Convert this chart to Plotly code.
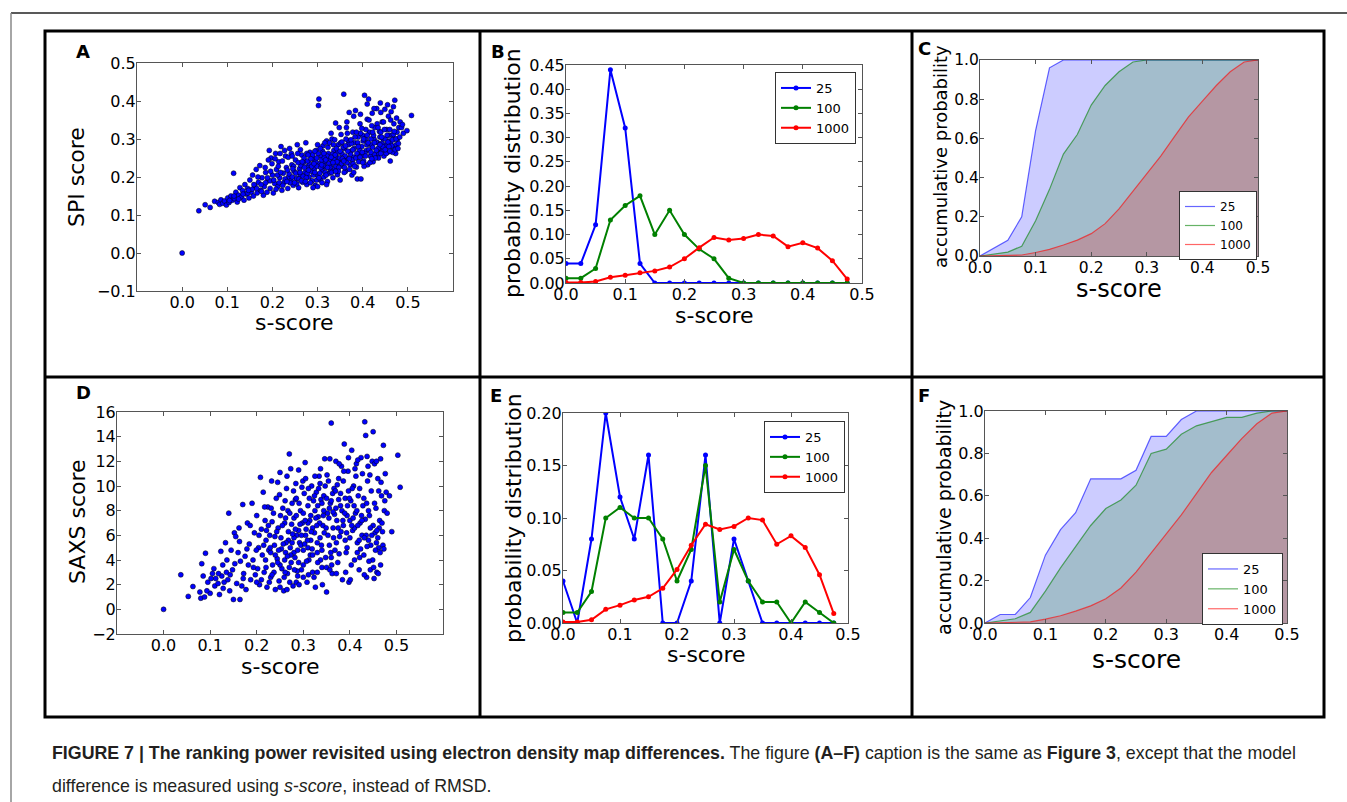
import plotly.graph_objects as go

W, H = 1347, 802

# ---------------- data ----------------
bins = [0.0, 0.025, 0.05, 0.075, 0.1, 0.125, 0.15, 0.175, 0.2, 0.225,
        0.25, 0.275, 0.3, 0.325, 0.35, 0.375, 0.4, 0.425, 0.45, 0.475]
edges = [0.0, 0.025, 0.05, 0.075, 0.1, 0.125, 0.15, 0.175, 0.2, 0.225,
         0.25, 0.275, 0.3, 0.325, 0.35, 0.375, 0.4, 0.425, 0.45, 0.475, 0.5]
labels = ["25", "100", "1000"]

# panel B: probability distribution (SPI)
b_25 = [0.04, 0.04, 0.12, 0.44, 0.32, 0.04, 0.0, 0.0, 0.0, 0.0,
        0.0, 0.0, 0.0, 0.0, 0.0, 0.0, 0.0, 0.0, 0.0, 0.0]
b_100 = [0.01, 0.01, 0.03, 0.13, 0.16, 0.18, 0.10, 0.15, 0.10, 0.07,
         0.05, 0.01, 0.0, 0.0, 0.0, 0.0, 0.0, 0.0, 0.0, 0.0]
b_1000 = [0.001, 0.001, 0.003, 0.012, 0.016, 0.021, 0.025, 0.033, 0.050, 0.073,
          0.094, 0.089, 0.092, 0.100, 0.097, 0.075, 0.083, 0.072, 0.046, 0.008]

# panel E: probability distribution (SAXS)
e_25 = [0.04, 0.0, 0.08, 0.20, 0.12, 0.08, 0.16, 0.0, 0.0, 0.04,
        0.16, 0.0, 0.08, 0.04, 0.0, 0.0, 0.0, 0.0, 0.0, 0.0]
e_100 = [0.01, 0.01, 0.03, 0.10, 0.11, 0.10, 0.10, 0.08, 0.04, 0.07,
         0.15, 0.02, 0.07, 0.04, 0.02, 0.02, 0.0, 0.02, 0.01, 0.0]
e_1000 = [0.001, 0.001, 0.003, 0.013, 0.017, 0.022, 0.025, 0.033, 0.051, 0.074,
          0.094, 0.089, 0.092, 0.100, 0.098, 0.075, 0.083, 0.072, 0.046, 0.009]

# panel C: accumulative probability (SPI)
c_25 = [0.0, 0.04, 0.08, 0.20, 0.64, 0.96, 1.0, 1.0, 1.0, 1.0, 1.0,
        1.0, 1.0, 1.0, 1.0, 1.0, 1.0, 1.0, 1.0, 1.0, 1.0]
c_100 = [0.0, 0.01, 0.02, 0.05, 0.18, 0.34, 0.52, 0.62, 0.77, 0.87, 0.94,
         0.99, 1.0, 1.0, 1.0, 1.0, 1.0, 1.0, 1.0, 1.0, 1.0]
c_1000 = [0.0, 0.001, 0.002, 0.005, 0.018, 0.034, 0.056, 0.081, 0.114, 0.165, 0.24,
          0.33, 0.42, 0.51, 0.61, 0.71, 0.79, 0.87, 0.94, 0.99, 1.0]

# panel F: accumulative probability (SAXS)
f_25 = [0.0, 0.04, 0.04, 0.12, 0.32, 0.44, 0.52, 0.68, 0.68, 0.68, 0.72,
        0.88, 0.88, 0.96, 1.0, 1.0, 1.0, 1.0, 1.0, 1.0, 1.0]
f_100 = [0.0, 0.01, 0.02, 0.05, 0.15, 0.26, 0.36, 0.46, 0.54, 0.58, 0.65,
         0.80, 0.82, 0.89, 0.93, 0.95, 0.97, 0.97, 0.99, 1.0, 1.0]
f_1000 = [0.0, 0.001, 0.002, 0.005, 0.018, 0.034, 0.056, 0.081, 0.114, 0.165, 0.24,
          0.33, 0.42, 0.51, 0.61, 0.71, 0.79, 0.87, 0.94, 0.99, 1.0]

# panel A: s-score vs SPI score
a_pts = [
    (0.000, 0.000), (0.037, 0.111), (0.051, 0.127), (0.062, 0.120), (0.072, 0.136),
    (0.080, 0.133), (0.083, 0.128), (0.086, 0.140), (0.090, 0.131), (0.094, 0.137),
    (0.098, 0.126), (0.101, 0.145), (0.104, 0.133), (0.108, 0.150), (0.111, 0.139),
    (0.114, 0.210), (0.116, 0.143), (0.119, 0.160), (0.122, 0.134), (0.125, 0.152),
    (0.128, 0.172), (0.131, 0.147), (0.134, 0.164), (0.137, 0.139), (0.139, 0.180),
    (0.142, 0.155), (0.145, 0.170), (0.148, 0.145), (0.150, 0.192), (0.153, 0.160),
    (0.156, 0.205), (0.158, 0.150), (0.161, 0.177), (0.164, 0.220), (0.166, 0.158),
    (0.169, 0.186), (0.172, 0.230), (0.174, 0.165), (0.177, 0.198), (0.180, 0.152),
    (0.182, 0.175), (0.185, 0.212), (0.188, 0.160), (0.190, 0.190), (0.193, 0.270),
    (0.195, 0.170), (0.197, 0.250), (0.200, 0.205), (0.202, 0.158), (0.205, 0.183),
    (0.207, 0.262), (0.209, 0.220), (0.212, 0.175), (0.214, 0.240), (0.216, 0.198),
    (0.219, 0.280), (0.221, 0.165), (0.224, 0.210), (0.226, 0.186), (0.229, 0.255),
    (0.231, 0.225), (0.234, 0.170), (0.236, 0.200), (0.238, 0.275), (0.241, 0.190),
    (0.243, 0.232), (0.246, 0.178), (0.248, 0.215), (0.251, 0.245), (0.253, 0.196),
    (0.255, 0.285), (0.258, 0.172), (0.260, 0.222), (0.262, 0.205), (0.265, 0.258),
    (0.267, 0.186), (0.269, 0.238), (0.272, 0.212), (0.274, 0.290), (0.276, 0.180),
    (0.279, 0.228), (0.281, 0.200), (0.283, 0.265), (0.286, 0.215), (0.288, 0.190),
    (0.290, 0.247), (0.293, 0.222), (0.295, 0.178), (0.297, 0.270), (0.300, 0.205),
    (0.302, 0.388), (0.303, 0.405), (0.304, 0.235), (0.306, 0.192), (0.308, 0.255),
    (0.310, 0.218), (0.312, 0.282), (0.314, 0.200), (0.316, 0.240), (0.318, 0.226),
    (0.320, 0.295), (0.322, 0.188), (0.324, 0.262), (0.326, 0.210), (0.328, 0.247),
    (0.330, 0.232), (0.332, 0.300), (0.334, 0.198), (0.336, 0.270), (0.338, 0.222),
    (0.340, 0.342), (0.342, 0.252), (0.344, 0.206), (0.346, 0.285), (0.348, 0.238),
    (0.350, 0.192), (0.352, 0.312), (0.354, 0.262), (0.356, 0.228), (0.358, 0.418),
    (0.360, 0.275), (0.362, 0.215), (0.364, 0.330), (0.366, 0.248), (0.368, 0.295),
    (0.370, 0.370), (0.372, 0.232), (0.374, 0.268), (0.376, 0.205), (0.378, 0.318),
    (0.380, 0.252), (0.382, 0.290), (0.384, 0.375), (0.386, 0.226), (0.388, 0.195),
    (0.390, 0.305), (0.392, 0.262), (0.394, 0.340), (0.396, 0.195), (0.398, 0.280),
    (0.400, 0.310), (0.402, 0.242), (0.404, 0.415), (0.406, 0.300), (0.408, 0.270),
    (0.410, 0.352), (0.411, 0.232), (0.413, 0.405), (0.415, 0.318), (0.417, 0.255),
    (0.419, 0.285), (0.421, 0.368), (0.423, 0.240), (0.425, 0.300), (0.427, 0.330),
    (0.429, 0.262), (0.431, 0.380), (0.433, 0.290), (0.435, 0.250), (0.437, 0.320),
    (0.439, 0.395), (0.441, 0.270), (0.443, 0.345), (0.445, 0.300), (0.447, 0.255),
    (0.449, 0.378), (0.451, 0.285), (0.453, 0.325), (0.455, 0.265), (0.457, 0.360),
    (0.459, 0.295), (0.461, 0.242), (0.463, 0.372), (0.465, 0.310), (0.467, 0.278),
    (0.469, 0.340), (0.471, 0.402), (0.473, 0.262), (0.475, 0.355), (0.477, 0.300),
    (0.480, 0.330), (0.483, 0.345), (0.490, 0.315), (0.498, 0.322), (0.508, 0.362),
    (0.215, 0.185), (0.228, 0.195), (0.237, 0.208), (0.244, 0.200), (0.252, 0.210),
    (0.259, 0.195), (0.263, 0.230), (0.268, 0.202), (0.271, 0.225), (0.277, 0.210),
    (0.282, 0.235), (0.287, 0.228), (0.291, 0.205), (0.296, 0.240), (0.299, 0.228),
    (0.305, 0.210), (0.309, 0.245), (0.313, 0.230), (0.317, 0.212), (0.321, 0.255),
    (0.325, 0.235), (0.329, 0.218), (0.333, 0.260), (0.337, 0.245), (0.341, 0.228),
    (0.345, 0.265), (0.349, 0.250), (0.353, 0.235), (0.357, 0.278), (0.361, 0.255),
    (0.365, 0.238), (0.369, 0.285), (0.373, 0.260), (0.377, 0.245), (0.381, 0.275),
    (0.385, 0.250), (0.389, 0.290), (0.393, 0.270), (0.397, 0.255), (0.401, 0.295),
    (0.405, 0.262), (0.409, 0.285), (0.414, 0.272), (0.418, 0.300), (0.422, 0.278),
    (0.426, 0.260), (0.430, 0.292), (0.434, 0.275), (0.438, 0.305), (0.442, 0.288),
    (0.446, 0.270), (0.450, 0.300), (0.454, 0.282), (0.458, 0.310), (0.462, 0.290),
    (0.466, 0.265), (0.470, 0.300), (0.474, 0.285), (0.165, 0.170), (0.175, 0.180),
    (0.185, 0.185), (0.195, 0.190), (0.135, 0.155), (0.145, 0.158), (0.155, 0.168),
    (0.125, 0.142), (0.115, 0.150), (0.105, 0.138),
    (0.203, 0.192), (0.211, 0.205), (0.218, 0.212), (0.223, 0.178), (0.233, 0.218),
    (0.239, 0.185), (0.247, 0.228), (0.254, 0.182), (0.257, 0.238), (0.264, 0.190),
    (0.270, 0.250), (0.275, 0.198), (0.278, 0.242), (0.284, 0.185), (0.289, 0.258),
    (0.294, 0.212), (0.298, 0.192), (0.301, 0.262), (0.307, 0.225), (0.311, 0.268),
    (0.315, 0.250), (0.319, 0.205), (0.323, 0.278), (0.327, 0.225), (0.331, 0.212),
    (0.335, 0.285), (0.339, 0.258), (0.343, 0.240), (0.347, 0.225), (0.351, 0.290),
    (0.355, 0.248), (0.359, 0.212), (0.363, 0.300), (0.367, 0.268), (0.371, 0.220),
    (0.375, 0.288), (0.379, 0.235), (0.383, 0.305), (0.387, 0.262), (0.391, 0.240),
    (0.395, 0.315), (0.399, 0.265), (0.403, 0.228), (0.407, 0.325), (0.412, 0.290),
    (0.416, 0.238), (0.420, 0.335), (0.424, 0.310), (0.428, 0.250), (0.432, 0.340),
    (0.436, 0.262), (0.440, 0.318), (0.444, 0.280), (0.448, 0.325), (0.452, 0.262),
    (0.456, 0.292), (0.460, 0.325), (0.464, 0.282), (0.468, 0.312), (0.472, 0.272),
    (0.476, 0.318), (0.479, 0.288), (0.486, 0.330), (0.208, 0.168), (0.196, 0.215),
    (0.189, 0.198), (0.176, 0.162), (0.168, 0.200), (0.159, 0.180), (0.147, 0.165),
    (0.213, 0.228), (0.222, 0.242), (0.232, 0.188), (0.235, 0.252), (0.242, 0.262),
    (0.245, 0.222), (0.249, 0.185), (0.256, 0.262), (0.261, 0.212), (0.266, 0.240),
    (0.273, 0.188), (0.276, 0.262), (0.280, 0.218), (0.285, 0.248), (0.292, 0.235),
    (0.294, 0.268), (0.298, 0.250), (0.303, 0.198), (0.306, 0.275), (0.309, 0.232),
    (0.314, 0.262), (0.318, 0.245), (0.322, 0.225), (0.326, 0.290), (0.330, 0.252),
    (0.334, 0.238), (0.338, 0.298), (0.342, 0.275), (0.346, 0.215), (0.350, 0.268),
    (0.354, 0.292), (0.358, 0.242), (0.362, 0.282), (0.366, 0.315), (0.370, 0.248),
    (0.374, 0.298), (0.378, 0.272), (0.382, 0.228), (0.386, 0.318), (0.390, 0.280),
    (0.394, 0.252), (0.398, 0.328), (0.402, 0.300), (0.406, 0.255), (0.410, 0.310),
    (0.414, 0.350), (0.418, 0.265), (0.422, 0.318), (0.426, 0.290), (0.430, 0.270),
    (0.434, 0.330), (0.438, 0.285), (0.442, 0.305), (0.446, 0.345), (0.450, 0.272),
    (0.454, 0.310), (0.458, 0.280), (0.462, 0.350), (0.466, 0.298), (0.470, 0.320),
    (0.474, 0.300), (0.478, 0.275), (0.482, 0.305), (0.488, 0.338), (0.300, 0.175),
    (0.290, 0.172), (0.310, 0.185), (0.320, 0.180), (0.340, 0.215), (0.360, 0.225),
    (0.380, 0.212), (0.400, 0.238), (0.420, 0.248), (0.440, 0.262), (0.460, 0.268),
    (0.184, 0.225), (0.191, 0.245), (0.199, 0.235), (0.206, 0.248), (0.217, 0.262),
    (0.227, 0.270), (0.244, 0.255), (0.262, 0.272), (0.279, 0.258), (0.300, 0.285),
    (0.316, 0.290), (0.330, 0.315), (0.348, 0.330), (0.365, 0.345), (0.380, 0.360),
    (0.395, 0.365), (0.410, 0.392), (0.425, 0.380), (0.440, 0.370), (0.455, 0.390),
    (0.468, 0.385),
]

# panel D: s-score vs SAXS score
d_pts = [
    (0.000, 0.0), (0.037, 2.8), (0.053, 1.05), (0.063, 1.85), (0.078, 1.4), (0.080, 0.9),
    (0.082, 3.7), (0.085, 2.7), (0.088, 1.0), (0.090, 4.55), (0.095, 2.2), (0.100, 1.3),
    (0.105, 2.9), (0.108, 3.3), (0.110, 1.9), (0.112, 2.5), (0.117, 2.1), (0.120, 1.2),
    (0.123, 4.7), (0.125, 2.7), (0.128, 1.7), (0.130, 2.2), (0.133, 5.4), (0.135, 3.0),
    (0.138, 2.4), (0.140, 7.8), (0.142, 1.5), (0.145, 4.8), (0.148, 3.2), (0.150, 0.8),
    (0.152, 6.2), (0.155, 5.9), (0.157, 2.1), (0.160, 4.6), (0.162, 6.6), (0.164, 0.8),
    (0.165, 3.9), (0.168, 1.9), (0.170, 8.5), (0.172, 2.9), (0.175, 4.3), (0.177, 1.6),
    (0.180, 7.0), (0.182, 3.6), (0.184, 5.3), (0.187, 2.4), (0.190, 8.6), (0.192, 4.0),
    (0.195, 6.2), (0.197, 2.8), (0.200, 7.6), (0.202, 3.3), (0.204, 5.0), (0.206, 2.0),
    (0.208, 10.7), (0.210, 6.5), (0.212, 4.4), (0.214, 9.5), (0.216, 3.0), (0.218, 7.2),
    (0.220, 5.6), (0.222, 1.8), (0.224, 8.3), (0.226, 4.8), (0.228, 6.0), (0.230, 2.6),
    (0.232, 10.4), (0.234, 3.6), (0.236, 7.8), (0.238, 5.2), (0.240, 1.6), (0.242, 9.0),
    (0.244, 4.1), (0.246, 6.6), (0.248, 2.3), (0.250, 11.1), (0.252, 5.8), (0.254, 3.3),
    (0.256, 8.2), (0.258, 1.5), (0.260, 7.0), (0.262, 4.6), (0.264, 9.8), (0.266, 2.9),
    (0.268, 6.3), (0.270, 12.6), (0.272, 5.0), (0.274, 3.8), (0.276, 8.6), (0.278, 1.9),
    (0.280, 7.4), (0.282, 4.2), (0.284, 10.2), (0.286, 6.0), (0.288, 2.7), (0.290, 11.3),
    (0.292, 5.4), (0.294, 8.0), (0.296, 3.2), (0.298, 7.0), (0.300, 4.8), (0.302, 9.4),
    (0.304, 11.9), (0.306, 6.5), (0.308, 2.2), (0.310, 8.4), (0.312, 4.0), (0.314, 7.2),
    (0.316, 5.6), (0.318, 10.0), (0.320, 3.0), (0.322, 8.8), (0.324, 6.2), (0.326, 1.8),
    (0.328, 9.5), (0.330, 4.6), (0.332, 7.5), (0.334, 10.8), (0.336, 5.8), (0.338, 8.9),
    (0.340, 3.4), (0.342, 6.8), (0.344, 9.2), (0.346, 12.2), (0.348, 4.2), (0.350, 1.4),
    (0.352, 7.8), (0.354, 10.4), (0.356, 5.2), (0.358, 8.6), (0.360, 15.1), (0.362, 2.9),
    (0.364, 6.6), (0.366, 9.8), (0.368, 4.8), (0.370, 12.0), (0.372, 7.2), (0.374, 3.8),
    (0.376, 10.6), (0.378, 5.9), (0.380, 8.4), (0.382, 11.6), (0.384, 2.4), (0.386, 6.8),
    (0.388, 13.4), (0.390, 9.0), (0.392, 4.6), (0.394, 7.6), (0.396, 11.2), (0.398, 2.2),
    (0.400, 5.8), (0.402, 8.8), (0.404, 12.9), (0.406, 6.4), (0.408, 10.0), (0.410, 4.0),
    (0.412, 7.8), (0.414, 11.8), (0.416, 5.4), (0.418, 9.2), (0.420, 3.2), (0.422, 7.0),
    (0.424, 12.3), (0.426, 6.0), (0.428, 8.4), (0.430, 4.4), (0.432, 15.2), (0.434, 14.1),
    (0.436, 2.6), (0.438, 10.4), (0.440, 5.6), (0.442, 7.6), (0.444, 3.2), (0.446, 9.6),
    (0.448, 12.0), (0.450, 14.4), (0.452, 2.5), (0.454, 6.2), (0.456, 8.2), (0.458, 3.0),
    (0.460, 10.6), (0.462, 5.0), (0.464, 7.2), (0.466, 12.2), (0.468, 9.2), (0.470, 6.3),
    (0.472, 13.3), (0.474, 8.0), (0.476, 11.0), (0.478, 9.5), (0.480, 7.8), (0.485, 9.2),
    (0.490, 6.3), (0.503, 12.5), (0.508, 9.9),
    (0.255, 6.8), (0.262, 7.4), (0.268, 5.6), (0.275, 6.9), (0.280, 5.8), (0.285, 7.6),
    (0.290, 6.4), (0.295, 5.2), (0.300, 7.8), (0.305, 6.0), (0.310, 7.0), (0.315, 4.4),
    (0.320, 6.6), (0.325, 8.0), (0.330, 5.4), (0.335, 7.0), (0.340, 8.6), (0.345, 6.2),
    (0.350, 9.0), (0.355, 7.4), (0.360, 8.8), (0.365, 5.8), (0.370, 8.2), (0.375, 6.6),
    (0.380, 9.4), (0.385, 7.2), (0.390, 5.6), (0.395, 8.4), (0.400, 7.2), (0.405, 9.8),
    (0.410, 6.6), (0.415, 8.0), (0.420, 5.6), (0.425, 7.6), (0.430, 9.0), (0.435, 6.0),
    (0.440, 8.0), (0.445, 5.2), (0.450, 6.8), (0.455, 4.8), (0.460, 5.8), (0.465, 4.6),
    (0.240, 4.4), (0.250, 3.6), (0.260, 4.0), (0.270, 3.4), (0.280, 4.6), (0.290, 3.8),
    (0.300, 3.6), (0.310, 5.0), (0.320, 4.4), (0.330, 3.0), (0.340, 4.8), (0.350, 3.4),
    (0.360, 4.2), (0.250, 1.8), (0.265, 1.6), (0.285, 2.2), (0.300, 2.6), (0.220, 3.4),
    (0.230, 4.6), (0.210, 2.4), (0.200, 2.2), (0.225, 6.8), (0.215, 5.2), (0.205, 6.0),
    (0.253, 4.9), (0.259, 2.6), (0.263, 5.4), (0.267, 8.0), (0.273, 4.4), (0.277, 6.1),
    (0.283, 8.9), (0.287, 3.1), (0.293, 6.9), (0.297, 9.9), (0.303, 5.3), (0.307, 3.9),
    (0.313, 9.0), (0.317, 6.3), (0.323, 2.6), (0.327, 7.4), (0.333, 9.8), (0.337, 4.0),
    (0.343, 7.6), (0.347, 10.0), (0.353, 6.0), (0.357, 3.2), (0.363, 9.4), (0.367, 7.7),
    (0.373, 10.1), (0.377, 4.5), (0.383, 8.0), (0.387, 11.2), (0.393, 6.2), (0.397, 9.6),
    (0.403, 3.6), (0.407, 7.4), (0.413, 10.8), (0.417, 6.8), (0.423, 4.9), (0.427, 11.0),
    (0.433, 7.3), (0.437, 5.1), (0.443, 10.9), (0.447, 6.0), (0.453, 11.8), (0.457, 5.4),
    (0.463, 6.6), (0.467, 10.3), (0.471, 5.2), (0.475, 8.8), (0.219, 4.0), (0.231, 8.2),
    (0.237, 3.0), (0.243, 6.3), (0.249, 9.3), (0.227, 2.2), (0.217, 8.3), (0.199, 4.8),
    (0.193, 3.4), (0.186, 6.8), (0.179, 4.9), (0.171, 2.5), (0.163, 5.5), (0.153, 3.7),
    (0.143, 2.8), (0.136, 4.0), (0.127, 3.6), (0.118, 2.9), (0.102, 2.5), (0.093, 1.5),
    (0.221, 6.4), (0.229, 5.0), (0.233, 7.1), (0.239, 5.9), (0.245, 3.8), (0.251, 7.6),
    (0.257, 5.3), (0.261, 8.8), (0.266, 4.3), (0.271, 7.8), (0.276, 5.4), (0.279, 9.6),
    (0.283, 6.5), (0.288, 4.8), (0.291, 8.6), (0.296, 6.0), (0.299, 10.4), (0.304, 7.2),
    (0.309, 5.6), (0.311, 9.8), (0.316, 7.6), (0.319, 4.9), (0.324, 9.2), (0.329, 6.8),
    (0.331, 8.4), (0.336, 10.2), (0.339, 5.2), (0.344, 8.0), (0.349, 6.6), (0.351, 10.9),
    (0.356, 8.2), (0.359, 4.6), (0.364, 7.9), (0.369, 9.6), (0.371, 5.4), (0.376, 8.9),
    (0.381, 6.3), (0.386, 10.4), (0.389, 7.8), (0.394, 5.0), (0.399, 9.0), (0.404, 6.8),
    (0.409, 8.4), (0.411, 11.4), (0.416, 4.6), (0.421, 9.8), (0.426, 7.2), (0.431, 5.8),
    (0.436, 8.6), (0.439, 11.6), (0.444, 6.6), (0.449, 4.0), (0.453, 8.6), (0.458, 6.4),
    (0.462, 9.6), (0.466, 3.6), (0.469, 7.0), (0.473, 4.9), (0.233, 2.8), (0.247, 4.8),
    (0.261, 3.0), (0.271, 2.2), (0.281, 3.2), (0.291, 2.0), (0.311, 2.8), (0.331, 3.8),
    (0.341, 2.0), (0.361, 3.6), (0.371, 2.9), (0.391, 3.0), (0.401, 2.4), (0.421, 4.2),
    (0.431, 2.8), (0.441, 3.9), (0.451, 3.4), (0.461, 2.9), (0.337, 11.4), (0.357, 12.2),
    (0.377, 11.8), (0.397, 12.3), (0.417, 12.1), (0.437, 12.4), (0.457, 12.0), (0.325, 10.8),
    (0.305, 10.6), (0.285, 9.0), (0.265, 10.8), (0.245, 10.3), (0.273, 11.4),
]

# ---------------- layout helpers ----------------
FONT = "DejaVu Sans"
solid = ["#0000ff", "#008000", "#ff0000"]
faded = ["rgba(0,0,255,0.6)", "rgba(0,128,0,0.6)", "rgba(255,0,0,0.6)"]
fills = ["rgba(0,0,255,0.2)", "rgba(0,128,0,0.2)", "rgba(255,0,0,0.2)"]


def px(x):
    return x / W


def py(y):
    return 1 - y / H


fig = go.Figure()


def axis_pair(n, box, xr, xt, yr, yt, yfmt, fs=16):
    x0, y0, x1, y1 = box
    common = dict(showline=True, mirror="ticks", linecolor="#555", linewidth=1,
                  ticks="inside", ticklen=4, tickcolor="#555", showgrid=False,
                  zeroline=False, automargin=False, ticklabelstandoff=-3,
                  tickfont=dict(family=FONT, size=fs, color="black"))
    sfx = "" if n == 1 else str(n)
    fig.layout["xaxis" + sfx] = dict(domain=[px(x0), px(x1)], range=xr, tickvals=xt,
                                     tickformat=".1f", anchor="y" + sfx, **common)
    fig.layout["yaxis" + sfx] = dict(domain=[py(y1), py(y0)], range=yr, tickvals=yt,
                                     tickformat=yfmt, anchor="x" + sfx, **common)


xt5 = [0.0, 0.1, 0.2, 0.3, 0.4, 0.5]
axis_pair(1, (137, 63, 453, 291), [-0.1, 0.6], xt5, [-0.1, 0.5],
          [-0.1, 0.0, 0.1, 0.2, 0.3, 0.4, 0.5], ".1f")
axis_pair(2, (566, 65, 862, 283), [0, 0.5], xt5, [0, 0.45],
          [0, 0.05, 0.1, 0.15, 0.2, 0.25, 0.3, 0.35, 0.4, 0.45], ".2f")
axis_pair(3, (980, 60, 1258, 256), [0, 0.5], xt5, [0, 1.0],
          [0, 0.2, 0.4, 0.6, 0.8, 1.0], ".1f", 15.5)
axis_pair(4, (117, 412, 443, 634), [-0.1, 0.6], xt5, [-2, 16],
          [-2, 0, 2, 4, 6, 8, 10, 12, 14, 16], "d")
axis_pair(5, (563, 413, 848, 623), [0, 0.5], xt5, [0, 0.2],
          [0, 0.05, 0.1, 0.15, 0.2], ".2f")
axis_pair(6, (985, 411, 1287, 623), [0, 0.5], xt5, [0, 1.0],
          [0, 0.2, 0.4, 0.6, 0.8, 1.0], ".1f", 16)

# ---------------- scatter panels ----------------
for n, pts in [(1, a_pts), (4, d_pts)]:
    xs = [p[0] for p in pts]
    ys = [p[1] for p in pts]
    fig.add_trace(go.Scatter(x=xs, y=ys, mode="markers", showlegend=False,
                             marker=dict(size=5, color="#0000ff",
                                         line=dict(color="black", width=0.5)),
                             xaxis="x" + str(n), yaxis="y" + str(n)))

# ---------------- probability distribution panels ----------------
for n, series, leg in [(2, [b_25, b_100, b_1000], "legend"),
                       (5, [e_25, e_100, e_1000], "legend2")]:
    for i, s in enumerate(series):
        fig.add_trace(go.Scatter(x=bins, y=s, mode="lines+markers", name=labels[i],
                                 line=dict(color=solid[i], width=2),
                                 marker=dict(size=5, color=solid[i]),
                                 legend=leg, xaxis="x" + str(n), yaxis="y" + str(n)))

# ---------------- accumulative panels ----------------
for n, series, leg in [(3, [c_25, c_100, c_1000], "legend3"),
                       (6, [f_25, f_100, f_1000], "legend4")]:
    for i, s in enumerate(series):
        fig.add_trace(go.Scatter(x=edges, y=s, mode="lines", fill="tozeroy",
                                 fillcolor=fills[i], line=dict(width=0),
                                 showlegend=False, hoverinfo="skip",
                                 xaxis="x" + str(n), yaxis="y" + str(n)))
    for i, s in enumerate(series):
        fig.add_trace(go.Scatter(x=edges, y=s, mode="lines", name=labels[i],
                                 line=dict(color=faded[i], width=1.2),
                                 legend=leg, xaxis="x" + str(n), yaxis="y" + str(n)))

leg_common = dict(bgcolor="white", bordercolor="#333", borderwidth=1,
                  xanchor="left", yanchor="top", tracegroupgap=0, itemwidth=30)
f13 = dict(family=FONT, size=13, color="black")
f12 = dict(family=FONT, size=12, color="black")
fig.update_layout(
    legend=dict(x=px(775), y=py(72), font=f13, **leg_common),
    legend2=dict(x=px(764), y=py(421), font=f13, **leg_common),
    legend3=dict(x=px(1179), y=py(191), font=f12, **leg_common),
    legend4=dict(x=px(1202), y=py(553), font=f13, **leg_common),
)

# ---------------- text: axis titles, panel letters, caption ----------------
ann = []


def text(x, y, s, size, angle=0, bold=False, xanchor="center"):
    ann.append(dict(x=px(x), y=py(y), xref="paper", yref="paper", text=s,
                    showarrow=False, textangle=angle, xanchor=xanchor, yanchor="middle",
                    font=dict(family=FONT, size=size, color="black",
                              weight="bold" if bold else "normal")))


text(77, 177, "SPI score", 22, -90)
text(294, 322, "s-score", 22)
text(513, 173, "probability distribution", 22, -90)
text(714, 315, "s-score", 22)
text(941, 157, "accumulative probability", 18, -90)
text(1119, 289, "s-score", 24)
text(77, 522, "SAXS score", 22, -90)
text(280, 666, "s-score", 22)
text(513, 518, "probability distribution", 22, -90)
text(706, 654, "s-score", 22)
text(944, 517, "accumulative probability", 19, -90)
text(1136, 659, "s-score", 25)

for lab, x, y in [("A", 83, 52), ("B", 498, 52), ("C", 924, 48),
                  ("D", 83, 393), ("E", 496, 395), ("F", 924, 395)]:
    text(x, y, lab, 18, bold=True)

cap_font = dict(family="Liberation Sans Narrow, Arial Narrow, Liberation Sans, sans-serif",
                size=17.8, color="#231f20")
ann.append(dict(x=px(50), y=py(753), xref="paper", yref="paper", showarrow=False,
                xanchor="left", yanchor="middle", font=cap_font,
                text="<b>FIGURE 7 | The ranking power revisited using electron density map differences.</b>"
                     " The figure <b>(A–F)</b> caption is the same as <b>Figure 3</b>,"
                     " except that the model"))
ann.append(dict(x=px(50), y=py(786), xref="paper", yref="paper", showarrow=False,
                xanchor="left", yanchor="middle", font=cap_font,
                text="difference is measured using <i>s-score</i>, instead of RMSD."))

shapes = [
    dict(type="line", x0=px(11), x1=1, y0=py(13), y1=py(13), line=dict(color="#222", width=1.5)),
    dict(type="line", x0=px(11), x1=px(11), y0=py(13), y1=0, line=dict(color="#888", width=1.5)),
    dict(type="rect", x0=px(45), x1=px(1324), y0=py(717), y1=py(31), line=dict(color="black", width=3)),
    dict(type="line", x0=px(45), x1=px(1324), y0=py(377), y1=py(377), line=dict(color="black", width=3)),
    dict(type="line", x0=px(480), x1=px(480), y0=py(717), y1=py(31), line=dict(color="black", width=3)),
    dict(type="line", x0=px(912), x1=px(912), y0=py(717), y1=py(31), line=dict(color="black", width=3)),
]
for s in shapes:
    s.update(xref="paper", yref="paper")

fig.update_layout(width=W, height=H, margin=dict(l=0, r=0, t=0, b=0, pad=0),
                  template="none", autosize=False,
                  paper_bgcolor="white", plot_bgcolor="white",
                  annotations=ann, shapes=shapes,
                  font=dict(family=FONT))

# the page body has a default 8px margin; drop it so the figure sits at (0, 0)
fig.write_html("out.html", config={"displayModeBar": False},
               post_script="document.body.style.margin='0px';")
